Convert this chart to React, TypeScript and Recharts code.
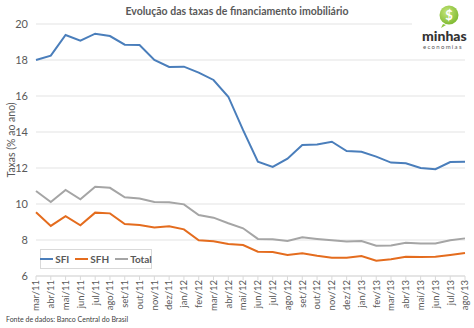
import React from 'react';
import { LineChart, Line, XAxis, YAxis, CartesianGrid } from 'recharts';

const months = ['mar/11','abr/11','mai/11','jun/11','jul/11','ago/11','set/11','out/11','nov/11','dez/11','jan/12','fev/12','mar/12','abr/12','mai/12','jun/12','jul/12','ago/12','set/12','out/12','nov/12','dez/12','jan/13','fev/13','mar/13','abr/13','mai/13','jun/13','jul/13','ago/13'];
const sfi = [18.0,18.24,19.39,19.07,19.46,19.33,18.85,18.83,18.0,17.61,17.63,17.3,16.89,15.96,14.1,12.35,12.06,12.52,13.28,13.3,13.46,12.94,12.9,12.63,12.3,12.26,12.0,11.93,12.33,12.35];
const sfh = [9.54,8.78,9.32,8.82,9.52,9.48,8.89,8.83,8.7,8.76,8.59,7.98,7.93,7.78,7.72,7.35,7.33,7.17,7.26,7.13,7.02,7.02,7.11,6.85,6.93,7.07,7.06,7.07,7.17,7.28];
const total = [10.72,10.11,10.78,10.26,10.96,10.9,10.37,10.31,10.11,10.1,9.98,9.39,9.24,8.93,8.65,8.06,8.04,7.94,8.15,8.06,7.98,7.91,7.94,7.68,7.7,7.85,7.8,7.8,7.98,8.09];
const yTicks = [6, 8, 10, 12, 14, 16, 18, 20];
const seriesNames = ['SFI', 'SFH', 'Total'];

const title = 'Evolução das taxas de financiamento imobiliário';
const yLabel = 'Taxas (% ao ano)';
const source = 'Fonte de dados: Banco Central do Brasil';

const data = months.map((m, i) => ({ month: m, SFI: sfi[i], SFH: sfh[i], Total: total[i] }));

const FONT = 'Lato, "Open Sans", sans-serif';
const GRAY = '#595959';
const COLORS: Record<string, string> = { SFI: '#4A7EBB', SFH: '#E46C1E', Total: '#A5A5A5' };

const XTick = (props: any) => {
  const { x, y, payload } = props;
  return (
    <text
      transform={`translate(${x},${y - 2}) rotate(-90)`}
      textAnchor="end"
      dy="0.35em"
      fontSize={9.5}
      fill={GRAY}
      fontFamily={FONT}
    >
      {payload.value}
    </text>
  );
};

export default function App() {
  return (
    <div style={{ position: 'fixed', left: 0, top: 0, width: 474, height: 328, background: '#fff', overflow: 'hidden' }}>
      <LineChart
        width={474}
        height={328}
        data={data}
        margin={{ top: 24, right: 9, bottom: 0, left: 0 }}
      >
        <CartesianGrid vertical={false} stroke="#e3e3e3" />
        <XAxis
          dataKey="month"
          interval={0}
          height={52}
          tick={<XTick />}
          tickLine={{ stroke: '#d9d9d9' }}
          tickSize={4}
          axisLine={{ stroke: '#d9d9d9' }}
        />
        <YAxis
          domain={[6, 20]}
          ticks={yTicks}
          width={36}
          tickLine={false}
          axisLine={false}
          tickSize={0}
          tickMargin={8}
          tick={{ fontSize: 11, fill: GRAY, fontFamily: FONT }}
        />
        {seriesNames.map((s) => (
          <Line key={s} dataKey={s} stroke={COLORS[s]} strokeWidth={2} dot={false} isAnimationActive={false} />
        ))}
      </LineChart>

      <div
        style={{
          position: 'absolute',
          left: 40,
          top: 249,
          border: '1px solid #d9d9d9',
          background: '#fff',
          width: 112,
          height: 20,
          display: 'flex',
          alignItems: 'center',
          justifyContent: 'center',
          gap: 6,
          fontFamily: FONT,
          fontSize: 10,
          fontWeight: 700,
          color: GRAY,
          boxSizing: 'border-box',
        }}
      >
        {seriesNames.map((s) => (
          <div key={s} style={{ display: 'flex', alignItems: 'center' }}>
            <div style={{ width: 13, height: 2, background: COLORS[s], marginRight: 2 }} />
            <span>{s}</span>
          </div>
        ))}
      </div>

      <div style={{ position: 'absolute', left: 0, top: 5, width: 474, textAlign: 'center', fontFamily: FONT, fontWeight: 700, fontSize: 10.5, color: GRAY, whiteSpace: 'nowrap' }}>
        {title}
      </div>

      <div style={{ position: 'absolute', left: 11, top: 140, width: 0, height: 0 }}>
        <div style={{ position: 'absolute', transform: 'translate(-50%,-50%) rotate(-90deg)', fontFamily: FONT, fontSize: 10.5, color: GRAY, whiteSpace: 'nowrap' }}>
          {yLabel}
        </div>
      </div>

      <div style={{ position: 'absolute', left: 6, top: 315, fontFamily: FONT, fontSize: 7, color: '#404040', whiteSpace: 'nowrap' }}>
        {source}
      </div>

      <div style={{ position: 'absolute', left: 412, top: 0, width: 62, height: 50, background: '#fff' }}>
        <svg width={62} height={50} style={{ position: 'absolute', left: 0, top: 0 }}>
          <defs>
            <radialGradient id="lg" cx="40%" cy="35%" r="70%">
              <stop offset="0%" stopColor="#c6e67a" />
              <stop offset="100%" stopColor="#7cb82f" />
            </radialGradient>
          </defs>
          <path d="M 31 24 L 29 28 L 34 25 Z" fill="#8cc63f" />
          <circle cx={37} cy={15} r={9.5} fill="url(#lg)" />
          <text x={37} y={20} textAnchor="middle" fontSize={13} fontWeight={700} fill="#fff" fontFamily={FONT}>$</text>
        </svg>
        <div style={{ position: 'absolute', left: 10, top: 29, fontFamily: FONT, fontWeight: 900, fontSize: 14, color: '#333', lineHeight: '13px', letterSpacing: 0 }}>
          minhas
        </div>
        <div style={{ position: 'absolute', left: 11, top: 44, fontFamily: FONT, fontSize: 6, color: '#555', lineHeight: '6px', letterSpacing: 1.3 }}>
          economias
        </div>
      </div>
    </div>
  );
}
